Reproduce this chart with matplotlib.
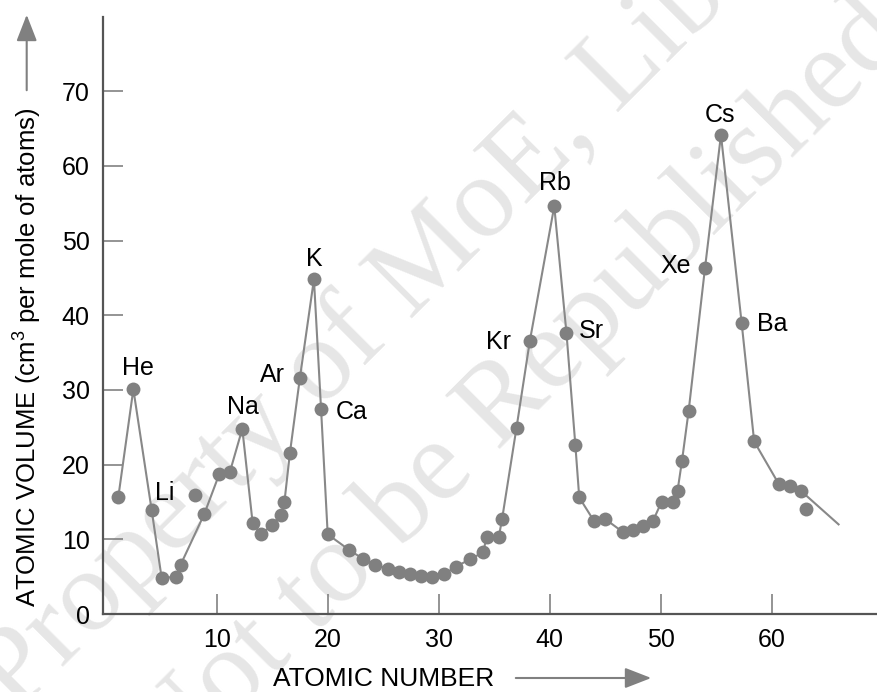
import numpy as np
import matplotlib
matplotlib.use('Agg')
import matplotlib.pyplot as plt
from matplotlib.patches import FancyArrowPatch

plt.rcParams['font.family'] = ['Liberation Sans', 'DejaVu Sans']
plt.rcParams['mathtext.fontset'] = 'custom'
plt.rcParams['mathtext.rm'] = 'Liberation Sans'

# atomic number and atomic volume
atomic_number = [1.14, 2.5, 4.15, 5.05, 6.34, 6.76, 8.05, 8.89, 10.24, 11.2,
                 12.31, 13.24, 13.99, 15.0, 15.76, 16.1, 16.6, 17.5, 18.76, 19.4,
                 20.0, 21.94, 23.2, 24.3, 25.4, 26.4, 27.4, 28.4, 29.4, 30.5,
                 31.55, 32.8, 34.0, 34.3, 35.4, 35.7, 37.0, 38.2, 40.4, 41.5,
                 42.3, 42.65, 43.98, 45.0, 46.6, 47.5, 48.4, 49.3, 50.07, 51.06,
                 51.5, 51.9, 52.5, 53.97, 55.41, 57.27, 58.4, 60.6, 61.6, 62.6,
                 63.1]
atomic_volume = [15.6, 30.1, 13.9, 4.8, 5.0, 6.6, 15.9, 13.4, 18.75, 19.06,
                 24.8, 12.2, 10.7, 11.9, 13.26, 14.96, 21.6, 31.65, 44.83, 27.5,
                 10.67, 8.57, 7.37, 6.6, 6.05, 5.67, 5.36, 5.13, 5.0, 5.36,
                 6.34, 7.32, 8.26, 10.27, 10.27, 12.7, 24.95, 36.56, 54.6, 37.6,
                 22.6, 15.6, 12.45, 12.7, 10.95, 11.25, 11.8, 12.5, 15.05, 14.96,
                 16.5, 20.5, 27.2, 46.3, 64.15, 39.0, 23.1, 17.45, 17.1, 16.5,
                 14.06]
# points that are not joined by the curve
off_curve = [8.05, 63.1]
# where the curve runs on past the last points
tail_number = [66.0]
tail_volume = [12.0]

labels = ['He', 'Li', 'Na', 'Ar', 'K', 'Ca', 'Kr', 'Rb', 'Sr', 'Xe', 'Cs', 'Ba']
label_number = [2.5, 4.15, 12.31, 17.5, 18.76, 19.4, 38.2, 40.4, 41.5, 53.97, 55.41, 57.27]
# label offsets in pixels (dx, dy up)
label_offset = [(5, 21), (13, 17), (1, 22), (-27, 3), (0, 20), (31, -3),
                (-31, -1), (1, 23), (25, 2), (-29, 2), (-1, 20), (31, -1)]

xticks = [10, 20, 30, 40, 50, 60]
yticks = [0, 10, 20, 30, 40, 50, 60, 70]

fig = plt.figure(figsize=(8.77, 6.92), dpi=100)

# faint watermark behind the chart
wm = dict(family='Liberation Serif', fontsize=84, color='#e6e6e6', rotation=45,
          rotation_mode='anchor', ha='center', va='center', zorder=-5)
fig.text(420 / 877, 1 - 270 / 692, 'Property of MoE, Library', **wm)
fig.text(520 / 877, 1 - 390 / 692, 'Not to be Republished', **wm)

ax = fig.add_axes([102.7 / 877, 78 / 692, 1 - 102.7 / 877, 596.7 / 692])
ax.patch.set_alpha(0)

curve_x = [z for z in atomic_number if z not in off_curve] + tail_number
curve_y = [v for z, v in zip(atomic_number, atomic_volume) if z not in off_curve] + tail_volume
ax.plot(curve_x, curve_y, color='#888888', lw=1.5, zorder=2, clip_on=False)
ax.plot(atomic_number, atomic_volume, 'o', color='#808080', ms=10, mec='none', zorder=3)

vol_by_z = dict(zip(atomic_number, atomic_volume))
for name, z, (dx, dy) in zip(labels, label_number, label_offset):
    ax.annotate(name, (z, vol_by_z[z]), xytext=(dx * 0.72, dy * 0.72),
                textcoords='offset points', ha='center', va='center',
                fontsize=18, color='black')

ax.set_xlim(-0.26, 69.46)
ax.set_ylim(0, 79.9)
ax.set_xticks(xticks)
ax.set_yticks(yticks)
ax.tick_params(direction='in', length=14.4, width=1.1, color='#777777',
               labelsize=18, labelcolor='black')
ax.tick_params(axis='x', pad=10)
ax.tick_params(axis='y', pad=9.5)
ax.yaxis.get_major_ticks()[0].tick1line.set_visible(False)
for side in ['top', 'right']:
    ax.spines[side].set_visible(False)
for side in ['left', 'bottom']:
    ax.spines[side].set_color('#555555')
    ax.spines[side].set_linewidth(1.6)

fig.text(383.5 / 877, 1 - 679 / 692, 'ATOMIC NUMBER', fontsize=19,
         ha='center', va='center')
fig.text(27 / 877, 1 - 357.5 / 692, 'ATOMIC VOLUME (cm$^3$ per mole of atoms)',
         fontsize=18.5, rotation=90, ha='center', va='center')

arrow_style = dict(arrowstyle='-|>,head_length=0.9,head_width=0.35', color='#808080',
                   lw=1.5, transform=fig.transFigure, mutation_scale=18)
fig.patches.append(FancyArrowPatch((513 / 877, 1 - 678 / 692), (654 / 877, 1 - 678 / 692),
                                   **arrow_style))
fig.patches.append(FancyArrowPatch((26.7 / 877, 1 - 93 / 692), (26.7 / 877, 1 - 12 / 692),
                                   **arrow_style))

fig.savefig('out.png', dpi=100)
